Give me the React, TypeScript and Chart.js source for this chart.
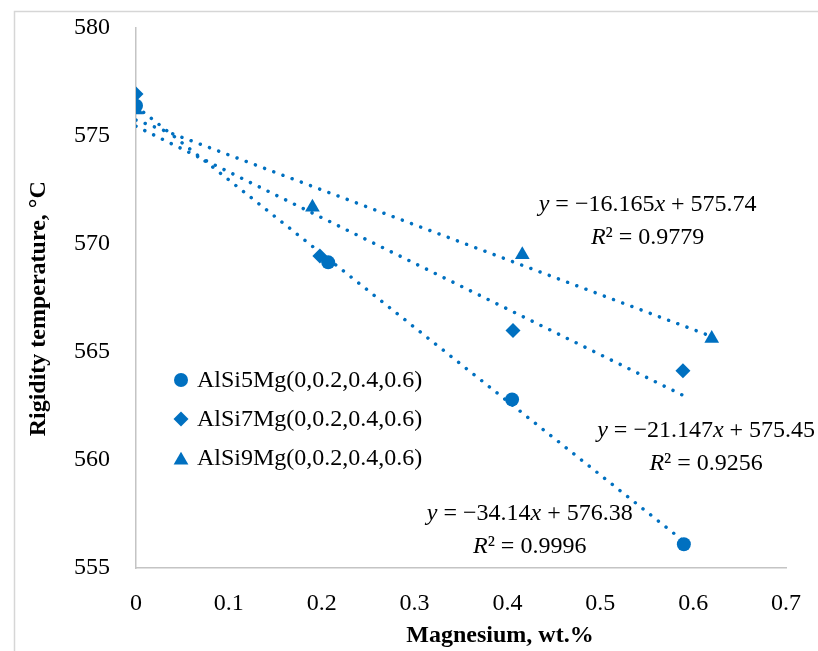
import React, { useEffect, useRef } from "react";
import { Chart, registerables } from "chart.js";

Chart.register(...registerables);

// ---- Data ----
const seriesNames = ["AlSi5Mg(0,0.2,0.4,0.6)", "AlSi7Mg(0,0.2,0.4,0.6)", "AlSi9Mg(0,0.2,0.4,0.6)"];
const xAlSi5 = [0, 0.207, 0.405, 0.59];
const yAlSi5 = [576.4, 569.15, 562.8, 556.1];
const xAlSi7 = [0, 0.198, 0.406, 0.589];
const yAlSi7 = [576.95, 569.45, 566.0, 564.13];
const xAlSi9 = [0, 0.19, 0.416, 0.62];
const yAlSi9 = [576.2, 571.7, 569.5, 565.63];
const trendSlopes = [-34.14, -21.147, -16.165];
const trendIntercepts = [576.38, 575.45, 575.74];
const trendR2 = ["0.9996", "0.9256", "0.9779"];
const trendSlopeText = ["34.14", "21.147", "16.165"];
const trendInterceptText = ["576.38", "575.45", "575.74"];
const xTicks = [0, 0.1, 0.2, 0.3, 0.4, 0.5, 0.6, 0.7];
const xTickLabels = ["0", "0.1", "0.2", "0.3", "0.4", "0.5", "0.6", "0.7"];
const yTicks = [555, 560, 565, 570, 575, 580];
const yTickLabels = ["555", "560", "565", "570", "575", "580"];
const xTitle = "Magnesium, wt.%";
const yTitle = "Rigidity temperature, °C";

// ---- Layout / style constants ----
const BLUE = "#0070C0";
const FONT = "'Liberation Serif', 'Times New Roman', serif";
const TEXT_SIZE = 24;
const pointStyles = ["circle", "rectRot", "triangle"];
const pointRadii = [7, 7.5, 8.5];
// equation label anchors (data units, centre of first line)
const eqAnchorX = [0.424, 0.614, 0.551];
const eqAnchorY = [557.5, 561.35, 571.8];

const xs = [xAlSi5, xAlSi7, xAlSi9];
const ys = [yAlSi5, yAlSi7, yAlSi9];

function drawMarker(ctx: CanvasRenderingContext2D, style: string, x: number, y: number, r: number) {
  ctx.beginPath();
  if (style === "circle") {
    ctx.arc(x, y, r, 0, Math.PI * 2);
  } else if (style === "rectRot") {
    ctx.moveTo(x, y - r);
    ctx.lineTo(x + r, y);
    ctx.lineTo(x, y + r);
    ctx.lineTo(x - r, y);
    ctx.closePath();
  } else {
    const h = r * 1.5;
    const w = r * 1.732;
    ctx.moveTo(x, y - h / 2);
    ctx.lineTo(x + w / 2, y + h / 2);
    ctx.lineTo(x - w / 2, y + h / 2);
    ctx.closePath();
  }
  ctx.fill();
}

function drawRich(ctx: CanvasRenderingContext2D, parts: { t: string; i?: boolean }[], cx: number, cy: number, size: number) {
  let total = 0;
  const widths = parts.map((p) => {
    ctx.font = `${p.i ? "italic " : ""}${size}px ${FONT}`;
    const w = ctx.measureText(p.t).width;
    total += w;
    return w;
  });
  let x = cx - total / 2;
  parts.forEach((p, k) => {
    ctx.font = `${p.i ? "italic " : ""}${size}px ${FONT}`;
    ctx.fillText(p.t, x, cy);
    x += widths[k];
  });
}

const decorPlugin = {
  id: "decor",
  beforeDraw(chart: any) {
    const ctx = chart.ctx as CanvasRenderingContext2D;
    ctx.save();
    ctx.strokeStyle = "#d6d6d6";
    ctx.lineWidth = 1.5;
    ctx.beginPath();
    ctx.moveTo(14.5, chart.height + 5);
    ctx.lineTo(14.5, 11.5);
    ctx.lineTo(chart.width + 5, 11.5);
    ctx.stroke();
    ctx.restore();
  },
  afterDraw(chart: any) {
    const ctx = chart.ctx as CanvasRenderingContext2D;
    const area = chart.chartArea;
    const sx = chart.scales.x;
    const sy = chart.scales.y;
    ctx.save();
    ctx.fillStyle = "#000";
    // axis titles
    ctx.font = `bold 24px ${FONT}`;
    ctx.textAlign = "center";
    ctx.textBaseline = "alphabetic";
    ctx.fillText(xTitle, area.left + (area.right - area.left) * 0.56, 642);
    ctx.save();
    ctx.translate(45, area.top + (area.bottom - area.top) * 0.52);
    ctx.rotate(-Math.PI / 2);
    ctx.fillText(yTitle, 0, 0);
    ctx.restore();

    // legend
    const lx = area.left + 45;
    const ly0 = area.top + 352;
    ctx.textAlign = "left";
    ctx.textBaseline = "middle";
    seriesNames.forEach((name, k) => {
      const yy = ly0 + k * 39;
      ctx.fillStyle = BLUE;
      drawMarker(ctx, pointStyles[k], lx, yy, pointRadii[k]);
      ctx.fillStyle = "#000";
      ctx.font = `${TEXT_SIZE}px ${FONT}`;
      ctx.fillText(name, lx + 16, yy + 1);
    });

    // equations
    ctx.textAlign = "left";
    ctx.textBaseline = "middle";
    ctx.fillStyle = "#000";
    for (let k = 0; k < 3; k++) {
      const cx = sx.getPixelForValue(eqAnchorX[k]);
      const cy = sy.getPixelForValue(eqAnchorY[k]);
      drawRich(
        ctx,
        [
          { t: "y", i: true },
          { t: " = −" + trendSlopeText[k] },
          { t: "x", i: true },
          { t: " + " + trendInterceptText[k] },
        ],
        cx,
        cy,
        TEXT_SIZE
      );
      drawRich(ctx, [{ t: "R", i: true }, { t: "² = " + trendR2[k] }], cx, cy + 33, TEXT_SIZE);
    }
    ctx.restore();
  },
};

export default function App() {
  const ref = useRef<HTMLCanvasElement | null>(null);

  useEffect(() => {
    if (!ref.current) return;
    const datasets: any[] = [];
    for (let k = 0; k < 3; k++) {
      const xmax = Math.max(...xs[k]);
      datasets.push({
        type: "line",
        label: seriesNames[k] + " trend",
        data: [
          { x: 0, y: trendIntercepts[k] },
          { x: xmax, y: trendSlopes[k] * xmax + trendIntercepts[k] },
        ],
        borderColor: BLUE,
        borderWidth: 3.5,
        borderDash: [0.01, 9.8],
        borderCapStyle: "round",
        pointRadius: 0,
        fill: false,
        order: 2,
      });
    }
    for (let k = 0; k < 3; k++) {
      datasets.push({
        type: "scatter",
        label: seriesNames[k],
        data: xs[k].map((x, i) => ({ x, y: ys[k][i] })),
        pointStyle: pointStyles[k],
        pointRadius: pointRadii[k],
        backgroundColor: BLUE,
        borderColor: BLUE,
        borderWidth: 0,
        order: 1,
      });
    }

    const chart = new Chart(ref.current, {
      type: "scatter",
      data: { datasets },
      options: {
        animation: false,
        responsive: false,
        devicePixelRatio: 1,
        layout: { padding: { left: 0, top: 28, right: 32, bottom: 0 } },
        plugins: { legend: { display: false }, tooltip: { enabled: false } },
        scales: {
          x: {
            type: "linear",
            min: 0,
            max: 0.7,
            afterFit: (s: any) => {
              s.height = 83;
              s.paddingLeft = 0;
              s.paddingRight = 0;
            },
            afterBuildTicks: (s: any) => {
              s.ticks = xTicks.map((v) => ({ value: v }));
            },
            grid: { display: false, drawTicks: false },
            border: { display: true, color: "#c4c4c4", width: 1.5 },
            ticks: {
              padding: 21,
              color: "#000",
              font: { family: FONT, size: TEXT_SIZE },
              maxRotation: 0,
              callback: (v: any) => {
                const i = xTicks.findIndex((t) => Math.abs(t - v) < 1e-9);
                return i >= 0 ? xTickLabels[i] : "";
              },
            },
          },
          y: {
            type: "linear",
            min: 555,
            max: 580,
            afterFit: (s: any) => {
              s.width = 136;
              s.paddingTop = 0;
              s.paddingBottom = 0;
            },
            afterBuildTicks: (s: any) => {
              s.ticks = yTicks.map((v) => ({ value: v }));
            },
            grid: { display: false, drawTicks: false },
            border: { display: true, color: "#c4c4c4", width: 1.5 },
            ticks: {
              padding: 26,
              color: "#000",
              font: { family: FONT, size: TEXT_SIZE },
              callback: (v: any) => {
                const i = yTicks.indexOf(v);
                return i >= 0 ? yTickLabels[i] : "";
              },
            },
          },
        },
      },
      plugins: [decorPlugin],
    } as any);
    return () => chart.destroy();
  }, []);

  return (
    <div style={{ position: "absolute", left: 0, top: 0, width: 818, height: 651, background: "#fff" }}>
      <canvas ref={ref} width={818} height={651} style={{ width: 818, height: 651, display: "block" }} />
    </div>
  );
}
